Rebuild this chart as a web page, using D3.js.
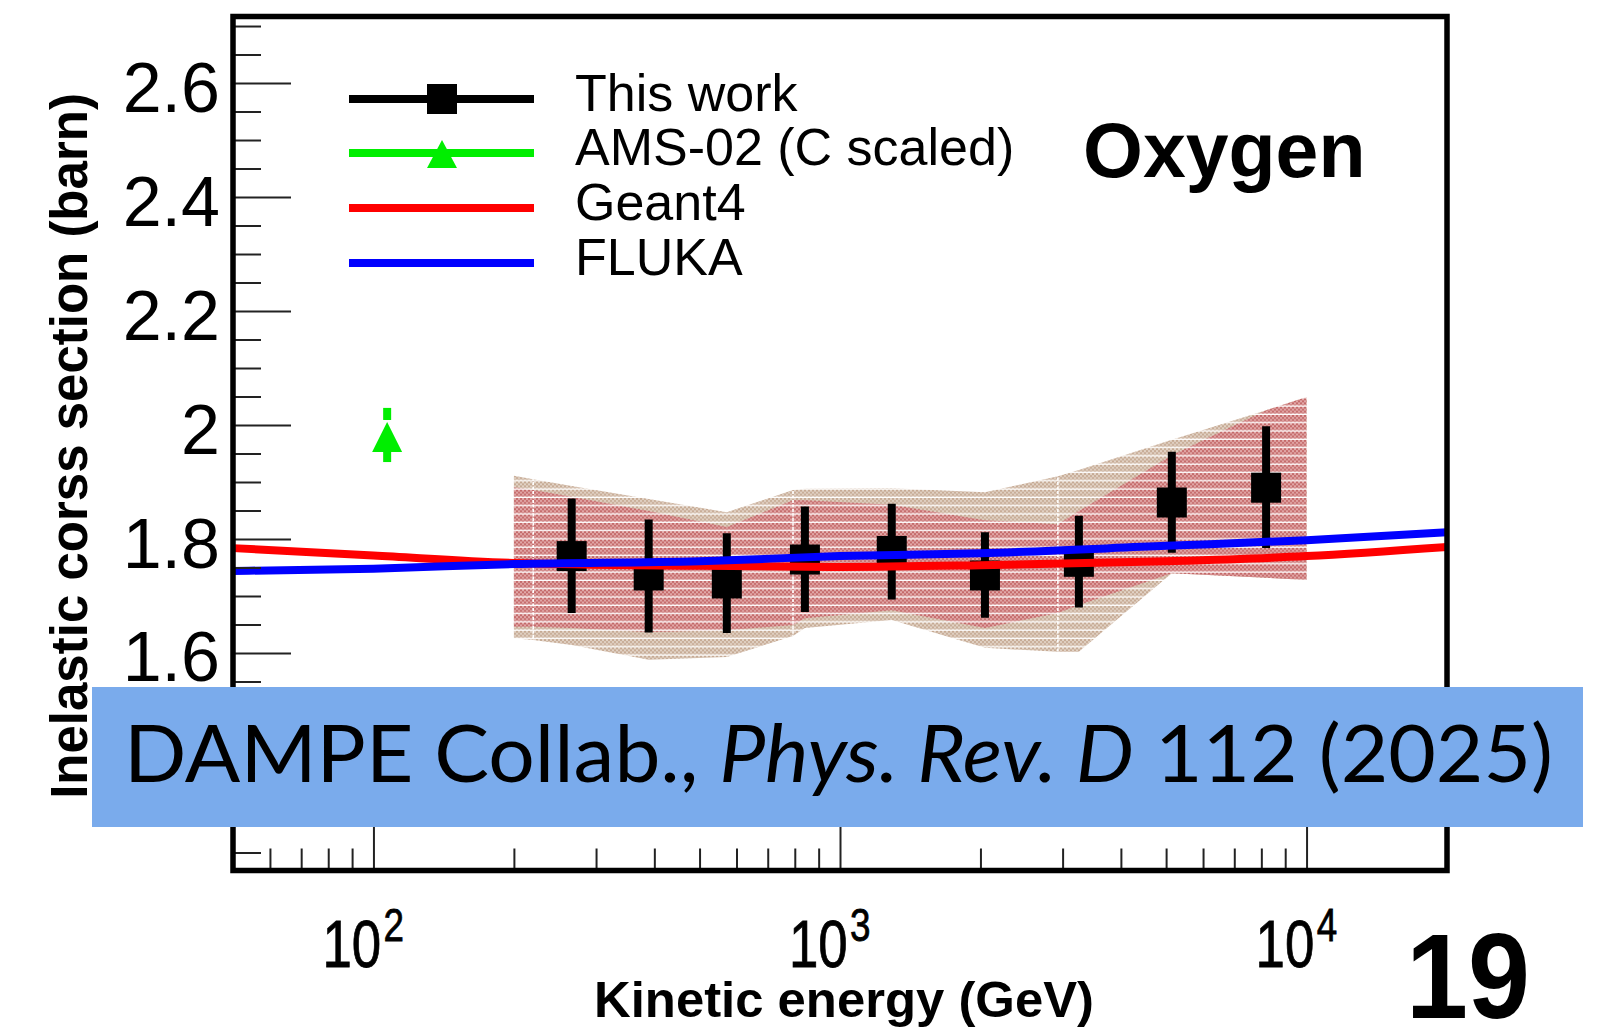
<!DOCTYPE html>
<html>
<head>
<meta charset="utf-8">
<script src="https://cdn.jsdelivr.net/npm/d3@7"></script>
<style>
  html, body { margin: 0; padding: 0; background: #ffffff; }
  svg { display: block; }
</style>
</head>
<body>
<svg id="chart" width="1619" height="1028"></svg>
<script>
// ---- Data: oxygen inelastic cross section vs kinetic energy ----
// This work (DAMPE): central values and total error bars
const energyGeV  = [266, 389, 572, 841, 1291, 2045, 3251, 5143, 8190];
const sigma      = [1.770, 1.736, 1.722, 1.764, 1.779, 1.736, 1.760, 1.864, 1.890];
const sigmaLow   = [1.670, 1.636, 1.635, 1.672, 1.694, 1.662, 1.680, 1.776, 1.784];
const sigmaHigh  = [1.871, 1.834, 1.810, 1.857, 1.862, 1.812, 1.841, 1.953, 1.998];

// AMS-02 (carbon, scaled)
const amsEnergy = [107];
const amsSigma  = [1.979];
const amsLow    = [1.935];
const amsHigh   = [2.030];

// Model predictions
const modelEnergy = [50, 100, 200, 500, 1000, 2000, 5000, 10000, 20000];
const geant4      = [1.784, 1.771, 1.758, 1.753, 1.751, 1.754, 1.761, 1.770, 1.786];
const fluka       = [1.744, 1.748, 1.756, 1.761, 1.770, 1.775, 1.788, 1.798, 1.812];

// Systematic uncertainty bands (outer = total, inner = hadronic model part)
const bandEnergy = [200, 220, 266, 389, 572, 793, 841, 1291, 2045, 2931, 3251, 5143, 8190, 10000];
const outerHigh  = [1.911, 1.905, 1.893, 1.870, 1.847, 1.886, 1.888, 1.889, 1.882, 1.910, 1.921, 1.974, 2.026, 2.049];
const outerLow   = [1.626, 1.623, 1.614, 1.588, 1.593, 1.630, 1.644, 1.658, 1.609, 1.602, 1.602, 1.740, 1.732, 1.728];
const innerHigh  = [1.891, 1.886, 1.874, 1.849, 1.821, 1.868, 1.868, 1.860, 1.833, 1.826, 1.849, 1.947, 2.026, 2.049];
const innerLow   = [1.646, 1.646, 1.644, 1.637, 1.640, 1.649, 1.661, 1.675, 1.644, 1.670, 1.684, 1.740, 1.732, 1.728];
const bandSeams  = [220, 793, 2931];

// Axis ticks and labels
const yMajorTicks  = [1.4, 1.6, 1.8, 2.0, 2.2, 2.4, 2.6];
const yTickLabels  = ["", "1.6", "1.8", "2", "2.2", "2.4", "2.6"];
const xMajorTicks  = [100, 1000, 10000];
const xTickExps    = ["2", "3", "4"];
const legendLabels = ["This work", "AMS-02 (C scaled)", "Geant4", "FLUKA"];

// ---- Layout ----
const svg = d3.select("#chart");
const W = 1619, H = 1028;
const frame = { left: 233, right: 1447, top: 16.5, bottom: 870.5 };
const FONT = "'Liberation Sans', Arial, Helvetica, sans-serif";

const x = d3.scaleLog().domain([50, 20000]).range([frame.left, frame.right]);
const y = d3.scaleLinear().domain([1.2184, 2.7167]).range([frame.bottom, frame.top]);

svg.append("rect").attr("width", W).attr("height", H).attr("fill", "#ffffff");

// ---- Fill patterns for the bands ----
const defs = svg.append("defs");
function dotPattern(id, light, dark) {
  const p = defs.append("pattern").attr("id", id)
    .attr("patternUnits", "userSpaceOnUse").attr("width", 4).attr("height", 8.3);
  p.append("rect").attr("width", 4).attr("height", 8.3).attr("fill", light);
  [[0, 0], [2, 2], [0, 4], [2, 6]].forEach(([a, b]) =>
    p.append("rect").attr("x", a).attr("y", b).attr("width", 2).attr("height", 2).attr("fill", dark));
  p.append("rect").attr("y", 7.0).attr("width", 4).attr("height", 1.3).attr("fill", "#ffffff");
}
dotPattern("tanFill", "#e2d3c6", "#c6aa94");
dotPattern("redFill", "#e2a9a9", "#c46a6a");

const outerData = bandEnergy.map((e, i) => ({ e, lo: outerLow[i], hi: outerHigh[i] }));
const innerData = bandEnergy.map((e, i) => ({ e, lo: innerLow[i], hi: innerHigh[i] }));
const area = d3.area().x(d => x(d.e)).y0(d => y(d.lo)).y1(d => y(d.hi));

defs.append("clipPath").attr("id", "bandClip")
  .append("path").attr("d", area(outerData));

const plot = svg.append("g");
plot.append("path").attr("d", area(outerData)).attr("fill", "url(#tanFill)");
plot.append("path").attr("d", area(innerData)).attr("fill", "url(#redFill)");

// Polygon seams of the band fill
plot.append("g").attr("clip-path", "url(#bandClip)")
  .selectAll("line").data(bandSeams).join("line")
  .attr("x1", d => x(d)).attr("x2", d => x(d))
  .attr("y1", y(2.2)).attr("y2", y(1.4))
  .attr("stroke", "#ffffff").attr("stroke-width", 1.6)
  .attr("stroke-dasharray", "3 1.5");

// ---- This work: error bars and square markers ----
const pts = energyGeV.map((e, i) => ({ e, v: sigma[i], lo: sigmaLow[i], hi: sigmaHigh[i] }));
plot.append("g").selectAll("line").data(pts).join("line")
  .attr("x1", d => x(d.e)).attr("x2", d => x(d.e))
  .attr("y1", d => y(d.hi)).attr("y2", d => y(d.lo))
  .attr("stroke", "#000").attr("stroke-width", 8);
const SQ = 30;
plot.append("g").selectAll("rect").data(pts).join("rect")
  .attr("x", d => x(d.e) - SQ / 2).attr("y", d => y(d.v) - SQ / 2)
  .attr("width", SQ).attr("height", SQ).attr("fill", "#000");

// ---- AMS-02 point ----
const GREEN = "#00ee00";
const ams = amsEnergy.map((e, i) => ({ e, v: amsSigma[i], lo: amsLow[i], hi: amsHigh[i] }));
const TRI = 15;
const amsG = plot.append("g");
ams.forEach(d => {
  const cx = x(d.e), cy = y(d.v);
  amsG.append("line").attr("x1", cx).attr("x2", cx).attr("y1", y(d.hi)).attr("y2", cy - TRI - 2)
    .attr("stroke", GREEN).attr("stroke-width", 8);
  amsG.append("line").attr("x1", cx).attr("x2", cx).attr("y1", cy + TRI).attr("y2", y(d.lo))
    .attr("stroke", GREEN).attr("stroke-width", 8);
  amsG.append("path")
    .attr("d", `M${cx},${cy - TRI}L${cx + TRI},${cy + TRI}L${cx - TRI},${cy + TRI}Z`)
    .attr("fill", GREEN);
});

// ---- Model curves ----
const line = d3.line().x(d => x(d.e)).y(d => y(d.v)).curve(d3.curveMonotoneX);
plot.append("path")
  .attr("d", line(modelEnergy.map((e, i) => ({ e, v: geant4[i] }))))
  .attr("fill", "none").attr("stroke", "#ff0000").attr("stroke-width", 8);
plot.append("path")
  .attr("d", line(modelEnergy.map((e, i) => ({ e, v: fluka[i] }))))
  .attr("fill", "none").attr("stroke", "#0000ff").attr("stroke-width", 8);

// ---- Axes (ticks point inward) ----
const TICK_COLOR = "#222";
const yMinor = d3.range(1.25, 2.7001, 0.05).filter(v => !yMajorTicks.some(m => Math.abs(m - v) < 1e-6));

const yAxisMinor = d3.axisLeft(y).tickValues(yMinor).tickSize(-28).tickFormat("");
const yAxisMajor = d3.axisLeft(y).tickValues(yMajorTicks).tickSize(-58).tickPadding(13)
  .tickFormat((d, i) => yTickLabels[i]);

const gyMinor = svg.append("g").attr("transform", `translate(${frame.left},0)`).call(yAxisMinor);
const gyMajor = svg.append("g").attr("transform", `translate(${frame.left},0)`).call(yAxisMajor);
[gyMinor, gyMajor].forEach(g => {
  g.select(".domain").remove();
  g.selectAll(".tick line").attr("stroke", TICK_COLOR).attr("stroke-width", 2);
});
gyMajor.selectAll(".tick text")
  .attr("font-family", FONT).attr("font-size", 70).attr("fill", "#000")
  .attr("dy", "0.4em");
gyMajor.selectAll(".tick text").filter(function () { return this.textContent === ""; }).remove();

const xMinor = x.ticks().filter(v => v > 50 && v < 20000 && !xMajorTicks.includes(v));
const xAxisMinor = d3.axisBottom(x).tickValues(xMinor).tickSize(-22).tickFormat("");
const xAxisMajor = d3.axisBottom(x).tickValues(xMajorTicks).tickSize(-45).tickFormat("");
const gxMinor = svg.append("g").attr("transform", `translate(0,${frame.bottom})`).call(xAxisMinor);
const gxMajor = svg.append("g").attr("transform", `translate(0,${frame.bottom})`).call(xAxisMajor);
[gxMinor, gxMajor].forEach(g => {
  g.select(".domain").remove();
  g.selectAll(".tick line").attr("stroke", TICK_COLOR).attr("stroke-width", 2);
});

// Power-of-ten labels: one condensed text each, exponent as a raised tspan
const xl = svg.append("g").attr("font-family", FONT).attr("fill", "#000");
xMajorTicks.forEach((v, i) => {
  const px = x(v);
  const t = xl.append("text")
    .attr("transform", `translate(${px - 51},967) scale(0.8,1)`)
    .attr("font-size", 66).attr("stroke", "#000").attr("stroke-width", 0.8);
  t.append("tspan").text("10");
  t.append("tspan").attr("dx", 3).attr("dy", -26).attr("font-size", 46).text(xTickExps[i]);
});

// Frame
svg.append("rect")
  .attr("x", frame.left).attr("y", frame.top)
  .attr("width", frame.right - frame.left).attr("height", frame.bottom - frame.top)
  .attr("fill", "none").attr("stroke", "#000").attr("stroke-width", 5.5);

// Axis titles
svg.append("text")
  .attr("x", 844).attr("y", 1017).attr("text-anchor", "middle")
  .attr("font-family", FONT).attr("font-weight", "bold").attr("font-size", 50)
  .attr("textLength", 500).attr("lengthAdjust", "spacingAndGlyphs")
  .text("Kinetic energy (GeV)");

svg.append("text")
  .attr("transform", "translate(87,446) rotate(-90)")
  .attr("text-anchor", "middle")
  .attr("font-family", FONT).attr("font-weight", "bold").attr("font-size", 51)
  .text("Inelastic corss section (barn)");

// ---- Legend ----
const legend = svg.append("g");
const legendRows = [99, 153, 208, 263];
const legendColors = ["#000000", GREEN, "#ff0000", "#0000ff"];
legendLabels.forEach((label, i) => {
  const ly = legendRows[i];
  legend.append("line").attr("x1", 349).attr("x2", 534).attr("y1", ly).attr("y2", ly)
    .attr("stroke", legendColors[i]).attr("stroke-width", 8);
  if (i === 0) {
    legend.append("rect").attr("x", 442 - SQ / 2).attr("y", ly - SQ / 2)
      .attr("width", SQ).attr("height", SQ).attr("fill", "#000");
  }
  if (i === 1) {
    legend.append("path")
      .attr("d", `M442,${ly - 13}L${442 + TRI},${ly + 15}L${442 - TRI},${ly + 15}Z`)
      .attr("fill", GREEN);
  }
  legend.append("text").attr("x", 575).attr("y", ly + 12)
    .attr("font-family", FONT).attr("font-size", 52).attr("fill", "#000")
    .text(label);
});

svg.append("text").attr("x", 1083).attr("y", 177)
  .attr("font-family", FONT).attr("font-weight", "bold").attr("font-size", 77)
  .text("Oxygen");

// ---- Reference banner ----
svg.append("rect").attr("x", 92).attr("y", 687).attr("width", 1491).attr("height", 140)
  .attr("fill", "#7aabec");
const cite = svg.append("text").attr("x", 124).attr("y", 782)
  .attr("font-family", "Lato, 'Noto Sans', sans-serif").attr("font-size", 79).attr("fill", "#000")
  .attr("textLength", 1429).attr("lengthAdjust", "spacingAndGlyphs");
cite.append("tspan").text("DAMPE Collab., ");
cite.append("tspan").attr("font-style", "italic").text("Phys. Rev. D");
cite.append("tspan").text(" 112 (2025)");

// Slide number
svg.append("text").attr("x", 1406).attr("y", 1018)
  .attr("font-family", FONT).attr("font-weight", "bold").attr("font-size", 120)
  .attr("textLength", 124).attr("lengthAdjust", "spacingAndGlyphs")
  .text("19");
</script>
</body>
</html>
